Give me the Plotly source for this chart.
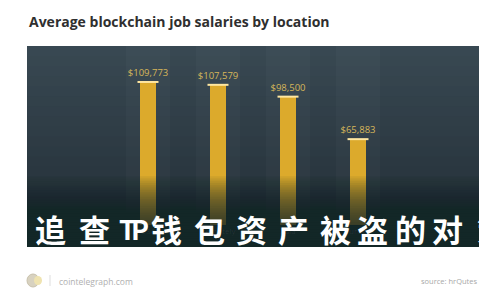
import plotly.graph_objects as go

# ---- data ----
locations = ["USA", "Remotely", "Asia", "Europe"]
salaries = [109773, 107579, 98500, 65883]
title_text = "Average blockchain job salaries by location"
site_text = "cointelegraph.com"
source_text = "source: hrQutes"
watermark_chars = ["如", "追", "查", "T", "P", "钱", "包", "资", "产", "被", "盗", "的", "对", "策"]

# ---- geometry (pixels) ----
W, H = 500, 300
L, R, T, B = 28, 22, 46, 75
PW, PH = W - L - R, H - T - B
PANEL_TOP, PANEL_BOT = 46, 247


def px_x(p):
    return (p - L) / PW


def px_y(p):
    return (H - B - p) / PH


fig = go.Figure()

# faint column stripes behind bars
stripe_h = max(salaries) * 1.3
fig.add_trace(go.Bar(
    x=locations, y=[stripe_h] * len(locations), width=0.62,
    marker=dict(color="rgba(255,255,255,0.025)", line=dict(width=0)),
    hoverinfo="skip", showlegend=False,
))

# gold bars
fig.add_trace(go.Bar(
    x=locations, y=salaries, width=0.215,
    marker=dict(color="#dcaa2c", line=dict(width=0)),
    texttemplate="$%{y:,.0f}", textposition="outside", constraintext="none",
    textfont=dict(family="Open Sans", size=9.5, color="#d6b75a"),
    cliponaxis=False, showlegend=False,
))

# bright highlight at bar tops
fig.add_trace(go.Scatter(
    x=locations, y=salaries, mode="markers",
    marker=dict(symbol="line-ew", size=15, line=dict(color="#ffe7a0", width=2)),
    hoverinfo="skip", showlegend=False,
))

shapes = []
# panel gradient (below traces)
nb = 20
top_c = (56, 72, 82)
bot_c = (34, 45, 53)
step = (PANEL_BOT - PANEL_TOP) / nb
for i in range(nb):
    t = i / (nb - 1)
    c = tuple(int(round(top_c[k] + (bot_c[k] - top_c[k]) * t)) for k in range(3))
    y0 = PANEL_TOP + step * i
    y1 = min(PANEL_BOT, y0 + step + 2)
    shapes.append(dict(type="rect", xref="paper", yref="paper",
                       x0=px_x(27), x1=px_x(479), y0=px_y(y1), y1=px_y(y0),
                       fillcolor="rgb(%d,%d,%d)" % c, line=dict(width=0), layer="below"))

# dark fade over bottom of bars (above traces)
nf = 40
f0, f1 = 176, PANEL_BOT
fstep = (f1 - f0) / nf
for i in range(nf):
    y0 = f0 + fstep * i
    shapes.append(dict(type="rect", xref="paper", yref="paper",
                       x0=px_x(27), x1=px_x(479), y0=px_y(f1), y1=px_y(y0),
                       fillcolor="rgba(27,36,43,0.05)", line=dict(width=0), layer="above"))

# footer coin logo
shapes.append(dict(type="circle", xref="paper", yref="paper",
                   x0=px_x(27), x1=px_x(39), y0=px_y(287), y1=px_y(274),
                   fillcolor="#d8d2c0", line=dict(color="#c9c2ad", width=1)))
shapes.append(dict(type="circle", xref="paper", yref="paper",
                   x0=px_x(34), x1=px_x(42), y0=px_y(285), y1=px_y(276),
                   fillcolor="#efe3b0", line=dict(width=0)))
shapes.append(dict(type="line", xref="paper", yref="paper",
                   x0=px_x(50), x1=px_x(50), y0=px_y(286), y1=px_y(275),
                   line=dict(color="#dddddd", width=1)))

annotations = [
    dict(text="<b>" + title_text + "</b>", xref="paper", yref="paper",
         x=px_x(27), y=px_y(22), xanchor="left", yanchor="middle", showarrow=False,
         font=dict(family="Open Sans", size=14, color="#2f2f2f")),
    dict(text=site_text, xref="paper", yref="paper",
         x=px_x(57), y=px_y(281), xanchor="left", yanchor="middle", showarrow=False,
         font=dict(family="Open Sans", size=8.5, color="#b0b0b0")),
    dict(text=source_text, xref="paper", yref="paper",
         x=px_x(479), y=px_y(281), xanchor="right", yanchor="middle", showarrow=False,
         font=dict(family="Open Sans", size=7.5, color="#a8a8a8")),
]

# watermark characters
centers = [6, 50, 94, 127, 140, 166, 209, 251, 293, 335, 372, 410, 447, 492]
for ch, cx in zip(watermark_chars, centers):
    annotations.append(dict(
        text="<b>" + ch + "</b>", xref="paper", yref="paper",
        x=px_x(cx), y=px_y(228), xanchor="center", yanchor="middle", showarrow=False,
        font=dict(family="Noto Sans CJK SC", size=31 if ch not in "TP" else 27, color="#ffffff"),
    ))

fig.update_layout(
    width=W, height=H,
    margin=dict(l=L, r=R, t=T, b=B, pad=0),
    paper_bgcolor="#ffffff", plot_bgcolor="rgba(0,0,0,0)",
    barmode="overlay", bargap=0,
    shapes=shapes, annotations=annotations,
    showlegend=False,
    xaxis=dict(range=[-1.714, 4.714], showgrid=False, zeroline=False, showline=False,
               ticks="", tickfont=dict(family="Open Sans", size=8, color="#8d979e")),
    yaxis=dict(range=[0, (H - B - T) / 1.303 * 1000], visible=False, showgrid=False,
               zeroline=False),
)

fig.write_html("out.html")
